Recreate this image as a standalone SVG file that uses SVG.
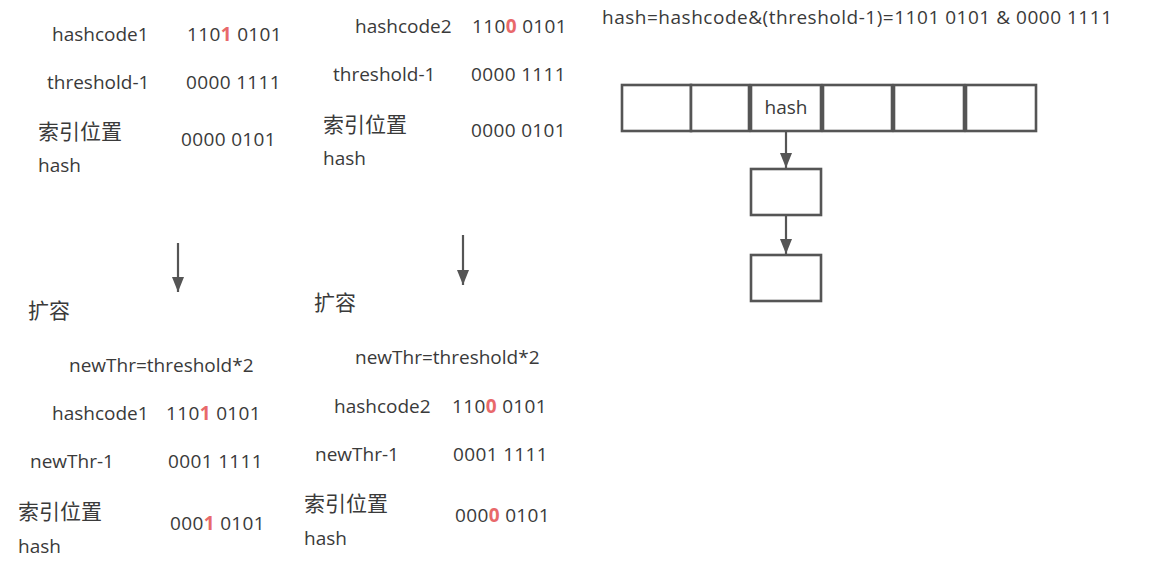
<svg xmlns="http://www.w3.org/2000/svg" width="1168" height="575" viewBox="0 0 1168 575">
<style>
text{font-family:"Open Sans","Noto Sans CJK SC",sans-serif;font-size:19px;fill:#3a3a3a}
.cjk{font-family:"Noto Sans CJK SC",sans-serif;font-size:21px}
.n{letter-spacing:0.35px}
.r{fill:#e8696b;font-weight:bold}
.box{fill:#fff;stroke:#555;stroke-width:2.6}
.ln{stroke:#555;stroke-width:2.2;fill:none}
</style>
<defs>
<marker id="ah" viewBox="0 0 15 12" refX="15" refY="6" markerWidth="15" markerHeight="12" markerUnits="userSpaceOnUse" orient="auto">
<path d="M0,0 L15,6 L0,12 z" fill="#555"/>
</marker>
</defs>
<rect width="1168" height="575" fill="#fff"/>

<g id="before1">
<text x="52" y="41">hashcode1</text>
<text class="n" x="187" y="41">110<tspan class="r">1</tspan> 0101</text>
<text x="47" y="89">threshold-1</text>
<text class="n" x="186" y="89">0000 1111</text>
<text class="cjk" x="38" y="139">索引位置</text>
<text class="n" x="181" y="146">0000 0101</text>
<text x="38" y="172">hash</text>
</g>

<g id="before2">
<text x="355" y="33">hashcode2</text>
<text class="n" x="472" y="33">110<tspan class="r">0</tspan> 0101</text>
<text x="333" y="81">threshold-1</text>
<text class="n" x="471" y="81">0000 1111</text>
<text class="cjk" x="323" y="132">索引位置</text>
<text class="n" x="471" y="137">0000 0101</text>
<text x="323" y="165">hash</text>
</g>

<g id="after1">
<text class="cjk" x="28" y="318">扩容</text>
<text x="69" y="372">newThr=threshold*2</text>
<text x="52" y="420">hashcode1</text>
<text class="n" x="166" y="420">110<tspan class="r">1</tspan> 0101</text>
<text x="30" y="468">newThr-1</text>
<text class="n" x="168" y="468">0001 1111</text>
<text class="cjk" x="18" y="519">索引位置</text>
<text class="n" x="170" y="530">000<tspan class="r">1</tspan> 0101</text>
<text x="18" y="553">hash</text>
</g>

<g id="after2">
<text class="cjk" x="314" y="310">扩容</text>
<text x="355" y="364">newThr=threshold*2</text>
<text x="334" y="413">hashcode2</text>
<text class="n" x="452" y="413">110<tspan class="r">0</tspan> 0101</text>
<text x="315" y="461">newThr-1</text>
<text class="n" x="453" y="461">0001 1111</text>
<text class="cjk" x="304" y="511">索引位置</text>
<text class="n" x="455" y="522">000<tspan class="r">0</tspan> 0101</text>
<text x="304" y="545">hash</text>
</g>

<g id="formula">
<text x="602" y="24" textLength="510" lengthAdjust="spacing">hash=hashcode&amp;(threshold-1)=1101 0101 &amp; 0000 1111</text>
</g>

<g id="table">
<rect class="box" x="622" y="85" width="69" height="46"/>
<rect class="box" x="691" y="85" width="58" height="46"/>
<rect class="box" x="751" y="85" width="70" height="46"/>
<rect class="box" x="823" y="85" width="69" height="46"/>
<rect class="box" x="894" y="85" width="70" height="46"/>
<rect class="box" x="966" y="85" width="70" height="46"/>
<text x="786" y="114" text-anchor="middle">hash</text>
</g>
<g id="node1"><rect class="box" x="751" y="169" width="70" height="46"/></g>
<g id="node2"><rect class="box" x="751" y="255" width="70" height="46"/></g>

<g id="connectors">
<line class="ln" x1="786" y1="132" x2="786" y2="168" marker-end="url(#ah)"/>
<line class="ln" x1="786" y1="216" x2="786" y2="254" marker-end="url(#ah)"/>
<line class="ln" x1="178" y1="243" x2="178" y2="292" marker-end="url(#ah)"/>
<line class="ln" x1="463" y1="235" x2="463" y2="285" marker-end="url(#ah)"/>
</g>
</svg>
